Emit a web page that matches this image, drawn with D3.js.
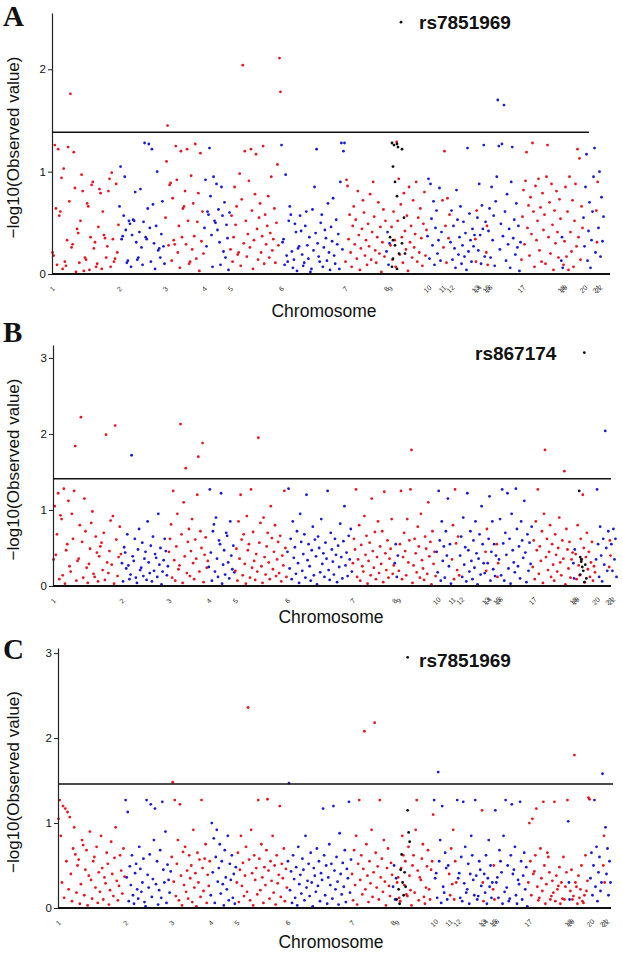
<!DOCTYPE html>
<html><head><meta charset="utf-8">
<script src="https://cdn.jsdelivr.net/npm/d3@7"></script>
<style>html,body{margin:0;padding:0;background:#fff}</style>
</head><body>
<svg id="chart" width="623" height="953"></svg>
<script>
// ---------------- DATA ----------------
const chromosomes = ["1","2","3","4","5","6","7","8","9","10","11","12","13","14","15","16","17","18","19","20","21","22"];
// cumulative start of each chromosome along the genome axis (marker units)
const chrStart = [0,67,113,152,178,229,293,334,338,375,390,398,423,425,434,436,469,509,511,531,544,546];
const genomeEnd = 552;

// Panel A: -log10 values per chromosome
const valuesA = [
 [0.21,0.18,1.26,0.64,0.09,1.22,0.57,0.61,0.94,0.05,1.03,0.12,0.08,0.33,1.24,0.71,1.76,0.26,0.29,1.19,0.84,0.02,0.44,0.4,0.11,0.52,0.97,0.81,0.03,0.16,0.14,0.69,0.66,0.04,0.36,0.87,0.9,0.25,0.31,0.07,0.1,0.46,0.83,0.79,0.05,0.61,0.38,0.35,0.16,0.27,0.81,0.93,0.07,0.99,0.34,0.12,0.15,0.88,0.21,0.48],
 [0.66,1.05,0.34,0.37,0.57,0.95,0.43,0.11,0.13,0.52,0.49,0.07,0.38,0.53,0.52,0.8,0.31,0.14,0.16,0.41,0.83,0.26,0.09,0.51,1.28,0.36,0.34,0.64,1.27,0.45,0.12,1.22,0.68,0.3,0.05,0.47,1.0,0.23,0.25,0.16,0.39,0.71,0.27,0.1],
 [0.55,1.1,1.45,0.28,0.87,0.89,0.13,0.74,0.33,0.29,1.25,0.92,0.21,0.47,0.06,1.2,0.36,0.64,0.66,0.81,0.29,1.22,0.52,0.1,0.12,0.96,0.24,0.69,0.37,1.27,0.15,0.51,0.79,0.03,1.18,0.32,0.61,0.2],
 [0.45,0.92,0.27,0.61,0.58,1.23,0.76,0.38,0.07,0.95,0.52,0.5,0.88,0.43,0.63,0.31,0.09,0.85,0.57,0.22,0.7,0.16,0.48,0.35,0.04,0.6],
 [0.24,0.57,0.12,0.36,0.85,0.48,0.66,0.19,0.21,0.98,0.08,0.73,2.04,0.3,1.2,0.52,0.17,0.39,0.91,0.26,1.22,0.62,0.05,0.33,0.78,1.17,0.44,0.14,0.55,0.69,0.21,0.37,1.25,0.1,0.58,0.29,0.47,0.76,0.16,0.4,0.95,0.23,0.34,0.64,0.11,0.5,1.07,0.28,2.11,1.78],
 [1.26,0.31,0.34,0.09,0.97,0.18,0.12,0.52,0.66,0.58,0.22,0.06,0.14,0.49,0.41,0.03,0.25,0.27,0.57,0.42,0.19,0.08,0.11,0.47,0.61,0.28,0.15,0.36,0.02,0.05,0.63,0.23,0.85,0.4,1.22,0.3,0.17,0.12,0.5,0.58,0.07,0.26,0.43,0.35,0.13,0.69,0.21,0.04,0.46,0.32,0.74,0.18,0.1,0.53,0.29,0.39,0.05,0.9,1.28,0.24,1.2,1.28],
 [0.12,0.92,0.86,0.34,0.58,0.21,0.07,0.47,0.66,0.29,0.53,0.15,0.81,0.38,0.04,0.25,0.44,0.72,0.6,0.18,0.33,0.09,0.49,0.27,0.78,0.14,0.41,0.9,0.56,0.23,0.11,0.36,0.7,0.2,0.46,0.02,0.31,0.63,0.17,0.52],
 [0.22,0.41,0.09,0.3],
 [0.28,0.46,0.14,0.61,0.33,0.07,1.29,0.52,0.93,0.19,0.68,0.36,0.11,0.79,0.42,0.24,0.57,0.03,0.85,0.31,0.47,0.16,0.72,0.26,0.39,0.9,0.12,0.55,0.21,0.64,0.35,0.08,0.49,0.8,0.18,0.43],
 [0.37,0.93,0.15,0.88,0.54,0.28,0.71,0.09,0.45,0.62,0.2,0.33,0.84,0.13,0.41],
 [0.72,0.26,1.2,0.47,0.11,0.74,0.35,0.58],
 [0.31,0.62,0.14,0.47,0.25,0.06,0.82,0.53,0.19,0.36,0.66,0.1,0.28,0.51,0.17,0.4,0.04,1.23,0.22,0.59,0.33,0.12,0.44,0.27,0.38],
 [0.34,0.12,0.62],
 [0.55,0.23,0.88,0.38,0.1,0.67,0.44,1.26,0.17,0.51],
 [0.21,0.47,0.09],
 [0.42,0.64,0.16,0.85,0.33,0.57,0.08,0.71,0.95,1.7,1.25,0.24,0.49,1.27,0.37,1.65,0.61,0.13,0.78,0.29,0.44,0.06,0.9,1.24,0.35,0.53,0.19,0.69,0.26,0.47,0.03,0.31],
 [0.14,0.56,0.82,0.29,0.91,1.19,0.45,0.67,0.18,0.75,0.39,1.28,0.61,0.07,0.86,0.33,0.52,0.93,0.23,0.65,0.12,0.79,0.43,0.58,0.1,0.95,1.26,0.36,0.7,0.2,0.88,0.48,0.04,0.62,0.3,0.81,0.41,0.16,0.73,0.54],
 [0.13,0.36,0.06],
 [0.09,0.32,0.85,0.17,0.61,0.04,0.95,0.41,0.22,0.72,0.07,0.52,0.88,0.27,1.22,0.36,1.13,0.14,0.66,0.45],
 [0.55,0.27,0.85,1.17,0.13,0.42,0.7,0.06,0.33,0.61,0.95,1.23,0.21],
 [0.62,0.31,0.9],
 [0.45,1.0,0.17,0.75,0.32,0.56]
];
// highlighted gene markers (black), panel A
const genePosA = [340,341,343,345,346,350,341,341,345,352,350,340,343,347,342,353,345,338,349];
const geneValA = [1.28,1.05,0.9,1.27,1.24,1.22,0.33,0.15,0.76,0.55,0.3,0.07,0.28,0.2,1.26,0.2,0.05,0.36,2.46];

// Panel B
const valuesB = [
 [0.35,1.05,0.41,0.68,1.22,0.09,0.93,0.88,0.14,1.28,0.03,0.47,0.55,1.12,0.26,0.19,0.95,0.62,1.25,1.84,0.07,0.33,0.36,0.8,2.22,0.58,0.11,1.15,0.72,0.24,0.04,0.29,0.49,0.83,0.98,0.16,0.12,0.65,0.44,0.06,0.39,0.52,0.57,0.21,0.7,0.08,1.99,0.31,0.17,0.46,0.86,0.28,0.92,0.03,2.11,0.61,0.13,0.38,0.78,0.42],
 [0.3,0.06,0.51,0.44,0.23,0.68,0.27,0.09,0.15,1.72,0.39,0.33,0.62,0.11,0.04,0.48,0.75,0.21,0.24,0.57,0.13,0.36,0.45,0.08,0.85,0.31,0.17,0.53,0.06,0.65,0.2,0.42,0.37,0.12,0.95,0.28,0.5,0.02,0.19,0.34,0.62,0.46,0.14,0.26],
 [0.45,0.62,0.81,0.11,1.25,0.34,0.07,0.52,0.95,0.22,0.27,2.13,0.68,0.04,1.1,0.39,1.55,0.17,0.58,0.75,0.13,0.46,0.88,0.3,0.09,0.61,0.36,1.2,1.7,0.19,0.72,0.5,1.88,0.05,0.41,0.64,0.24,0.33],
 [0.25,1.27,0.44,0.07,0.72,0.81,0.19,0.9,0.36,0.12,0.6,0.55,1.22,0.03,0.28,0.47,0.15,0.7,0.66,0.31,0.1,0.85,0.4,0.22,0.53,0.18],
 [0.2,0.49,0.07,0.85,0.36,1.2,0.61,0.14,0.68,0.29,0.03,0.92,0.47,0.55,0.11,1.27,0.24,0.71,0.33,0.08,0.42,0.19,1.95,0.57,0.83,0.26,0.04,0.9,0.38,0.15,0.52,0.7,0.31,0.09,1.05,0.63,0.22,0.45,0.8,0.13,0.35,0.58,0.17,0.66,0.06,0.4,0.27,1.25,0.5,0.12],
 [0.45,1.28,0.23,0.62,0.09,0.85,0.37,0.51,0.16,0.72,0.3,0.04,0.95,0.58,0.2,0.42,0.68,0.11,1.2,0.34,0.55,0.26,0.07,0.47,0.78,0.14,0.61,0.39,0.02,0.65,0.5,0.18,0.88,0.29,0.43,0.12,0.57,0.36,1.25,0.21,0.08,0.7,0.48,0.32,0.15,0.62,0.41,0.05,0.53,0.25,0.82,0.38,0.1,0.59,1.05,0.27,0.44,0.13,0.66,0.35,0.75,0.19],
 [0.3,0.62,0.48,1.27,0.12,0.35,0.8,0.07,0.54,0.26,0.19,0.92,0.41,0.66,0.03,0.33,0.57,0.14,1.15,0.46,0.24,0.71,0.09,0.38,0.85,0.17,0.52,0.29,0.72,0.05,1.24,0.43,0.21,0.6,0.11,0.36,0.49,0.88,0.16,0.27],
 [0.3,0.55,0.12,0.4],
 [0.2,0.55,1.25,0.09,0.38,0.7,0.46,0.14,0.88,0.31,0.6,1.27,1.79,0.04,0.27,0.62,0.43,0.18,0.78,0.52,0.11,0.95,0.34,0.23,0.08,0.65,0.49,0.16,1.1,0.39,0.58,0.02,0.72,0.29,0.45,0.13],
 [0.45,0.18,1.25,0.6,0.07,0.85,0.33,0.52,0.11,0.72,0.4,1.15,0.26,0.55,0.03],
 [0.35,0.8,0.09,1.27,0.56,0.21,0.65,0.14],
 [0.4,0.65,0.12,0.9,0.28,0.51,0.06,1.22,0.47,0.19,0.72,0.33,0.09,0.6,0.24,0.85,0.43,0.02,0.36,0.68,0.15,1.05,0.55,0.3,0.17],
 [0.45,0.2,0.75],
 [0.3,0.62,1.18,0.07,0.45,0.85,0.22,0.55,0.13,0.4],
 [0.55,0.12,0.3],
 [0.35,0.88,0.14,1.27,0.56,0.07,0.7,0.41,1.22,0.23,0.62,0.03,0.95,0.47,0.31,0.18,1.28,0.75,0.26,0.52,0.1,0.85,0.6,0.37,1.12,0.44,0.05,0.68,0.2,0.57,0.29,0.78],
 [0.25,0.6,0.09,0.85,0.47,1.27,0.16,0.52,0.33,0.72,0.04,0.95,1.79,0.38,0.62,0.21,0.45,0.8,0.12,0.55,0.28,0.07,0.68,0.41,0.19,0.5,0.9,0.31,0.14,0.6,0.36,1.51,0.02,0.75,0.48,0.23,0.58,0.11,0.35,0.44],
 [0.3,0.1,0.48],
 [0.42,0.09,0.8,0.27,0.14,0.62,0.35,1.2,0.5,0.05,0.38,0.7,0.22,0.45,0.12,0.31,0.58,0.07,0.26,0.18],
 [0.35,1.27,0.55,0.12,0.78,0.4,0.06,0.62,0.28,2.04,0.5,0.2,0.72],
 [0.25,0.6,0.4],
 [0.55,0.2,0.75,0.35,0.62,0.12]
];
const genePosB = [515,516,517,518,519,516,521,522,517,520,520];
const geneValB = [1.25,0.38,0.32,0.25,0.2,0.15,0.28,0.1,0.35,0.05,3.07];

// Panel C
const valuesC = [
 [1.05,1.27,0.85,0.3,1.2,0.12,1.17,0.55,1.13,0.22,1.07,0.4,0.08,0.7,0.95,0.63,0.18,0.5,0.57,0.05,0.28,0.8,0.74,0.15,0.45,0.68,0.03,0.38,0.9,0.33,0.11,0.55,0.6,0.24,0.72,0.06,0.42,0.19,0.85,0.47,0.1,0.36,0.29,0.65,0.52,0.04,0.21,0.78,0.4,0.14,0.59,0.95,0.32,0.09,0.26,0.62,0.44,0.17,0.7,0.37],
 [1.27,0.36,1.13,0.08,0.49,0.27,0.62,0.15,0.05,0.41,0.52,0.22,0.11,0.72,0.46,0.19,0.3,0.58,0.07,0.02,1.27,0.39,0.24,0.63,1.22,0.13,0.34,0.8,1.17,0.28,0.55,0.04,0.21,0.68,0.12,1.25,0.45,0.3,0.9,0.06,0.51,0.33,0.18,0.43],
 [0.6,1.48,0.31,1.27,0.14,0.52,0.8,0.09,1.22,0.38,0.03,0.66,0.27,0.72,0.19,0.44,0.11,0.62,0.35,0.5,0.07,0.92,0.24,0.41,0.02,0.65,0.3,0.57,0.13,1.27,0.47,0.2,0.58,0.75,0.06,0.39,0.26,0.55],
 [0.15,1.0,0.42,0.82,0.06,0.6,0.92,0.31,0.47,0.75,0.17,0.55,0.28,0.03,0.68,0.36,0.22,0.85,0.09,0.52,0.33,0.62,0.12,0.4,0.05,0.48],
 [0.3,0.65,0.07,0.45,0.85,0.26,0.53,0.14,0.38,0.72,0.19,2.36,0.57,0.09,0.92,0.41,0.03,0.62,0.33,0.47,0.16,1.27,0.58,0.21,0.75,0.36,0.06,0.48,0.27,0.68,1.28,0.44,0.11,0.55,0.32,0.85,0.18,0.5,0.04,0.62,0.29,0.39,1.2,0.13,0.52,0.35,0.7,0.08,0.46,0.24],
 [0.55,1.47,0.21,0.43,0.06,0.62,0.34,0.12,0.48,0.03,0.72,0.28,0.39,0.17,0.58,0.45,0.09,0.85,0.24,0.32,0.52,0.14,0.65,0.3,0.02,0.47,0.38,0.19,0.7,0.26,0.55,0.08,0.41,0.33,1.17,0.62,0.15,0.5,0.05,0.36,0.75,0.27,0.52,0.11,1.2,0.44,0.22,0.6,0.31,0.04,0.88,0.4,0.16,0.53,0.25,0.68,0.07,0.46,0.35,1.25,0.18,0.57],
 [0.4,0.09,0.68,0.27,0.85,0.04,0.52,1.27,0.33,0.62,0.16,0.46,2.08,0.22,0.75,0.38,0.07,0.55,0.29,0.92,0.13,0.42,2.18,0.65,0.24,0.49,0.1,1.27,0.36,0.58,0.19,0.8,0.31,0.03,0.47,0.7,0.26,0.14,0.53,0.39],
 [0.25,0.5,0.1,0.35],
 [0.3,0.36,0.12,0.08,0.47,0.85,0.62,0.27,0.55,0.16,0.14,0.72,0.38,0.21,0.03,0.5,0.62,0.18,0.92,1.27,0.44,0.09,0.36,0.33,0.58,0.75,0.13,0.05,0.24,0.49,0.68,0.22,0.1,0.45,0.55,1.1],
 [1.27,0.35,0.41,0.12,1.6,0.55,0.8,0.06,1.2,0.25,0.18,0.65,0.47,0.1,0.5],
 [0.4,0.15,0.7,0.28,0.92,0.1,0.55,0.3],
 [1.27,0.35,0.41,0.12,0.6,0.08,1.25,0.29,0.72,0.18,0.22,0.52,0.05,0.4,0.85,0.62,0.33,0.15,1.27,0.38,0.1,0.14,0.55,0.45,0.26],
 [1.15,0.3,0.08],
 [0.4,0.18,0.62,0.05,0.35,0.8,0.25,0.5,0.12,0.3],
 [0.22,0.5,0.1],
 [1.15,0.3,0.36,0.12,0.68,0.55,0.42,0.05,0.85,0.19,1.27,0.24,0.5,0.08,0.11,0.62,1.22,0.4,0.45,0.72,0.15,0.05,0.33,0.28,1.25,0.55,0.1,0.38,0.65,0.22,0.48,0.02],
 [0.3,1.0,0.55,0.15,1.05,0.4,0.43,0.62,1.17,0.25,0.09,0.12,0.7,0.35,0.2,1.25,0.5,0.05,0.28,0.65,0.6,0.42,0.1,0.14,0.32,0.18,1.25,0.08,0.38,0.22,0.26,0.48,0.05,0.3,0.11,0.6,0.1,0.25,0.42,1.27],
 [1.02,0.3,0.1],
 [0.2,0.45,0.1,0.14,1.8,0.3,0.25,0.05,0.38,0.12,0.22,0.5,0.08,0.06,0.15,0.62,0.2,0.32,1.3,1.28],
 [0.35,0.65,0.15,0.5,1.27,0.25,0.72,0.08,0.42,0.6,0.2,0.3,1.58],
 [0.5,0.85,0.3],
 [0.95,0.4,0.7,0.15,0.55,0.3]
];
const genePosC = [349,350,351,343,342,346,344,340,345,338,341,347,349];
const geneValC = [1.15,0.89,0.78,0.63,0.45,0.42,0.3,0.22,0.15,0.1,0.05,0.25,2.95];

const yTicksA = [0,1,2];
const yTicksB = [0,1,2,3];
const yTicksC = [0,1,2,3];
const thresholds = [1.385, 1.41, 1.46];
const topSnpNames = ["rs7851969", "rs867174", "rs7851969"];
const panelLetters = ["A", "B", "C"];

// ---------------- LAYOUT ----------------
const panels = [
  {letter: panelLetters[0], values: valuesA, genePos: genePosA, geneVal: geneValA, thr: thresholds[0], ticks: yTicksA, snp: topSnpNames[0],
   yMax: 2.55, yTop: 13, yBot: 274, xL: 52, xR: 604, baseEnd: 610, thrEnd: 589, letterY: 25.5, snpX: 419, snpY: 28.5, titleX: 324, titleY: 317},
  {letter: panelLetters[1], values: valuesB, genePos: genePosB, geneVal: geneValB, thr: thresholds[1], ticks: yTicksB, snp: topSnpNames[1],
   yMax: 3.17, yTop: 345, yBot: 586, xL: 53, xR: 617, baseEnd: 611, thrEnd: 611, letterY: 342, snpX: 475, snpY: 360, titleX: 331, titleY: 623},
  {letter: panelLetters[2], values: valuesC, genePos: genePosC, geneVal: geneValC, thr: thresholds[2], ticks: yTicksC, snp: topSnpNames[2],
   yMax: 3.06, yTop: 648, yBot: 908, xL: 58, xR: 611, baseEnd: 611, thrEnd: 613, letterY: 659, snpX: 419, snpY: 667, titleX: 331, titleY: 948}
];

const RED = "#e8161e", BLUE = "#1a1ad8", BLACK = "#111";
const sans = "'Liberation Sans', Arial, Helvetica, sans-serif";
const svg = d3.select("#chart");
svg.append("rect").attr("width", 623).attr("height", 953).attr("fill", "#fff");

panels.forEach(p => {
  const g = svg.append("g");
  const y = d3.scaleLinear().domain([0, p.yMax]).range([p.yBot, p.yTop]);
  const x = d3.scaleLinear().domain([0, genomeEnd]).range([p.xL, p.xR]);

  // points
  const pts = [];
  p.values.forEach((arr, ci) => {
    const s = chrStart[ci];
    const e = ci < chrStart.length - 1 ? chrStart[ci + 1] : genomeEnd;
    arr.forEach((v, j) => pts.push({pos: s + (j + 0.5) / arr.length * (e - s), v, color: ci % 2 === 0 ? RED : BLUE}));
  });
  g.selectAll("circle.pt").data(pts).join("circle").attr("class", "pt")
    .attr("cx", d => x(d.pos)).attr("cy", d => y(d.v)).attr("r", 1.4).attr("fill", d => d.color);
  const gene = p.genePos.map((pos, i) => ({pos, v: p.geneVal[i]}));
  g.selectAll("circle.gene").data(gene).join("circle").attr("class", "gene")
    .attr("cx", d => x(d.pos)).attr("cy", d => y(d.v)).attr("r", 1.4).attr("fill", BLACK);

  // y axis
  const ax = g.append("g").attr("transform", `translate(${p.xL},0)`)
    .call(d3.axisLeft(y).tickValues(p.ticks).tickSize(4).tickSizeOuter(0).tickFormat(d3.format("d")));
  ax.select(".domain").attr("stroke", "#222").attr("stroke-width", 1.2);
  ax.selectAll(".tick line").attr("stroke", "#222");
  ax.selectAll(".tick text").attr("font-family", sans).attr("font-size", 11.5).attr("fill", "#111").attr("x", -6);

  // baseline and threshold
  g.append("line").attr("x1", p.xL).attr("x2", p.baseEnd).attr("y1", y(0)).attr("y2", y(0))
    .attr("stroke", "#111").attr("stroke-width", 2);
  g.append("line").attr("x1", p.xL).attr("x2", p.thrEnd).attr("y1", y(p.thr)).attr("y2", y(p.thr))
    .attr("stroke", "#111").attr("stroke-width", 1.5);

  // chromosome labels
  const xa = g.append("g").attr("transform", `translate(0,${y(0) + 15})`)
    .call(d3.axisBottom(x).tickValues(chrStart).tickSize(0).tickFormat((d, i) => chromosomes[i]));
  xa.select(".domain").remove();
  xa.selectAll(".tick text").attr("font-family", sans).attr("font-size", 7).attr("fill", "#333")
    .attr("y", 0).attr("dy", "0.35em").attr("text-anchor", "middle").attr("transform", "rotate(-45)");

  // titles
  g.append("text").attr("x", p.titleX).attr("y", p.titleY).attr("text-anchor", "middle")
    .attr("font-family", sans).attr("font-size", 17.5).attr("fill", "#111").text("Chromosome");
  g.append("text").attr("transform", `translate(13,${(p.yTop + p.yBot) / 2 + 4}) rotate(-90)`)
    .attr("text-anchor", "middle").attr("dominant-baseline", "central")
    .attr("font-family", sans).attr("font-size", 17).attr("fill", "#111").text("\u2212log10(Observed value)");
  g.append("text").attr("x", 3).attr("y", p.letterY)
    .attr("font-family", "'Liberation Serif', 'Times New Roman', serif").attr("font-weight", "bold")
    .attr("font-size", 29).attr("fill", "#111").text(p.letter);
  g.append("text").attr("x", p.snpX).attr("y", p.snpY)
    .attr("font-family", sans).attr("font-weight", "bold").attr("font-size", 19).attr("fill", "#111").text(p.snp);
});
</script>
</body></html>
